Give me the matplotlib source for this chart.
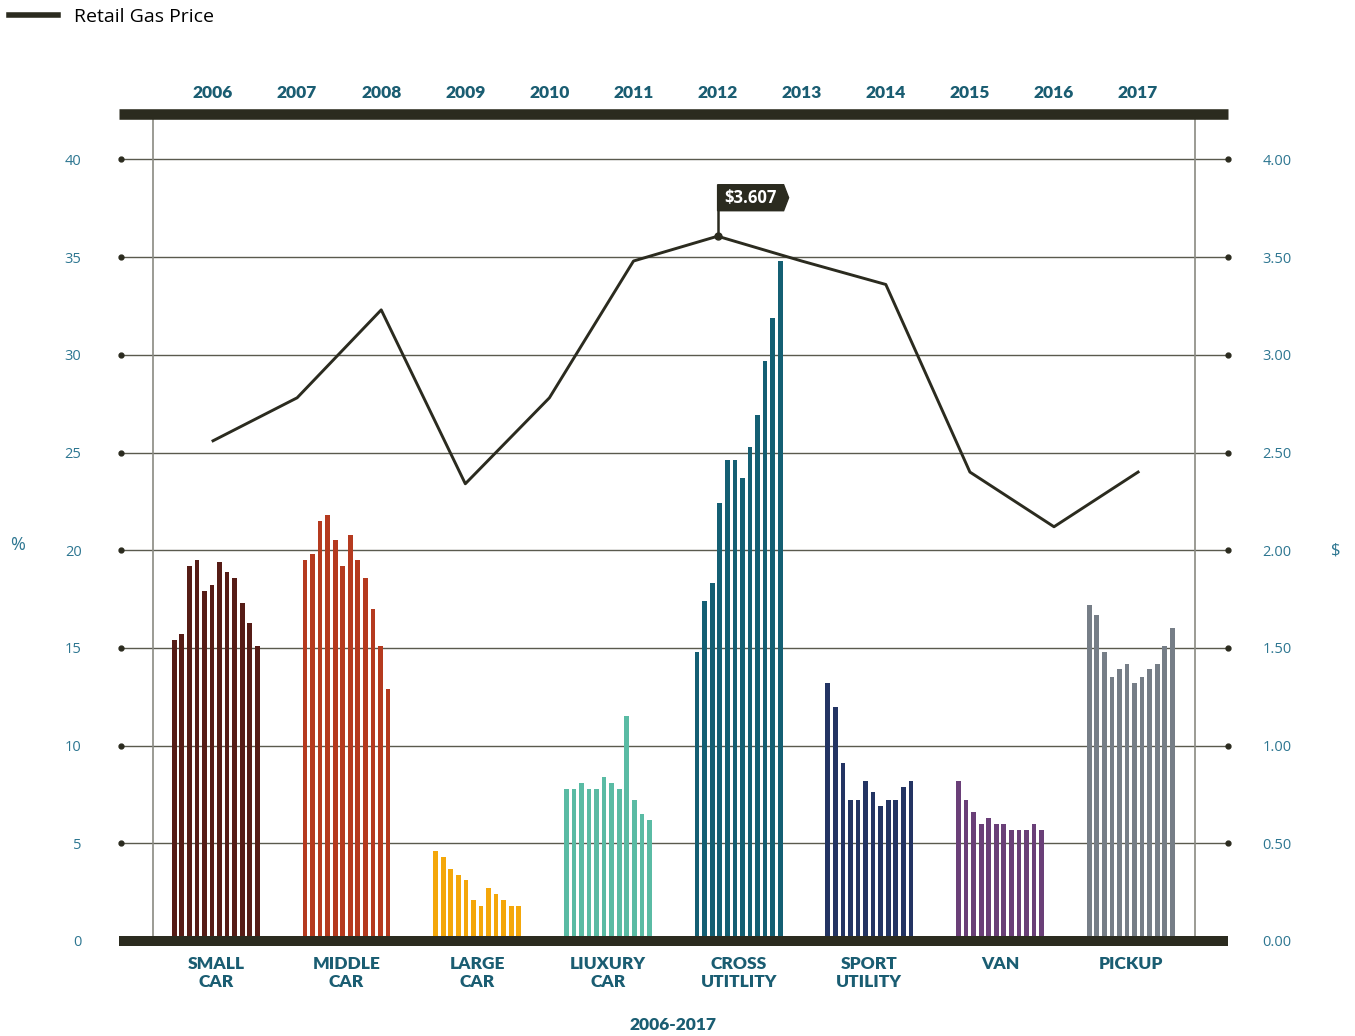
import numpy as np
import matplotlib
matplotlib.use("Agg")
import matplotlib.pyplot as plt
import matplotlib.transforms as mtransforms
from matplotlib.lines import Line2D
from matplotlib.patches import Polygon

#---------------------------- data ----------------------------#
categories = ["SMALL\nCAR", "MIDDLE\nCAR", "LARGE\nCAR", "LIUXURY\nCAR",
              "CROSS\nUTITLITY", "SPORT\nUTILITY", "VAN", "PICKUP"]

small_car = [15.4, 15.7, 19.2, 19.5, 17.9, 18.2, 19.4, 18.9, 18.6, 17.3, 16.3, 15.1]
middle_car = [19.5, 19.8, 21.5, 21.8, 20.5, 19.2, 20.8, 19.5, 18.6, 17.0, 15.1, 12.9]
large_car = [4.6, 4.3, 3.7, 3.4, 3.1, 2.1, 1.8, 2.7, 2.4, 2.1, 1.8, 1.8]
luxury_car = [7.8, 7.8, 8.1, 7.8, 7.8, 8.4, 8.1, 7.8, 11.5, 7.2, 6.5, 6.2]
cross_utility = [14.8, 17.4, 18.3, 22.4, 24.6, 24.6, 23.7, 25.3, 26.9, 29.7, 31.9, 34.8]
sport_utility = [13.2, 12.0, 9.1, 7.2, 7.2, 8.2, 7.6, 6.9, 7.2, 7.2, 7.9, 8.2]
van = [8.2, 7.2, 6.6, 6.0, 6.3, 6.0, 6.0, 5.7, 5.7, 5.7, 6.0, 5.7]
pickup = [17.2, 16.7, 14.8, 13.5, 13.9, 14.2, 13.2, 13.5, 13.9, 14.2, 15.1, 16.0]

years = list(range(2006, 2018))
gas_price = [2.56, 2.78, 3.23, 2.34, 2.78, 3.48, 3.607, 3.48, 3.36, 2.40, 2.12, 2.40]
peak_label = "$3.607"

series = [small_car, middle_car, large_car, luxury_car,
          cross_utility, sport_utility, van, pickup]
colors = ["#561c16", "#b53a1f", "#f4a70a", "#5abba4",
          "#145f73", "#233463", "#6a3f78", "#767e87"]

#---------------------------- style ----------------------------#
dark = "#2b2b1f"
teal = "#1a5d72"
tick_col = "#2d7691"
grid_col = "#5a5a4e"

plt.rcParams["font.family"] = ["Open Sans", "DejaVu Sans"]

fig = plt.figure(figsize=(13.55, 10.36), dpi=100)
pos = [119 / 1355, 95 / 1036, 1109 / 1355, 827.5 / 1036]

ax = fig.add_axes(pos)
ax.set_xlim(-0.7406, 7.744)
ax.set_ylim(0, 42.35)
for s in ax.spines.values():
    s.set_visible(False)

# bars
step = 0.0578
offs = (np.arange(12) - 5.5) * step
for i, (vals, c) in enumerate(zip(series, colors)):
    ax.bar(i + offs, vals, width=0.036, color=c, zorder=2)

# grid with end dots
ticks_pct = np.arange(5, 41, 5)
for t in ticks_pct:
    ax.axhline(t, xmin=0.0018, xmax=1.0, color=grid_col, lw=1, zorder=1)
blend = mtransforms.blended_transform_factory(ax.transAxes, ax.transData)
ax.plot([0.0018] * len(ticks_pct), ticks_pct, "o", ms=3.5, color=dark,
        transform=blend, clip_on=False, zorder=3)
ax.plot([1.0] * len(ticks_pct), ticks_pct, "o", ms=3.5, color=dark,
        transform=blend, clip_on=False, zorder=3)

# thin verticals + thick top/bottom bars
for xf in [0.0304, 0.9702]:
    ax.plot([xf, xf], [0, 1], color="#8a8a82", lw=1.2, transform=ax.transAxes, zorder=1)
ax.axhline(0, color=dark, lw=7.2, zorder=4, clip_on=False, solid_capstyle="butt")
ax.axhline(42.35, color=dark, lw=7.6, zorder=4, clip_on=False, solid_capstyle="butt")

ax.set_yticks(np.arange(0, 41, 5))
ax.set_yticklabels([str(v) for v in range(0, 41, 5)])
ax.tick_params(axis="y", length=0, pad=27, labelsize=10.5, labelcolor=tick_col)
ax.set_xticks(range(len(categories)))
ax.set_xticklabels(categories, fontsize=12.5, fontweight="heavy", color=teal,
                   family=["Lato", "DejaVu Sans"], linespacing=1.1)
ax.tick_params(axis="x", length=0, pad=11)
ax.set_xlabel("2006-2017", fontsize=12.5, fontweight="heavy", color=teal,
              family=["Lato", "DejaVu Sans"], labelpad=20)
ax.set_ylabel("%", rotation=0, fontsize=13, color=tick_col, va="center", ha="center")
ax.yaxis.set_label_coords(-101 / 1109, 0.4786)

#---------------------------- gas price line ----------------------------#
ax2 = fig.add_axes(pos, frameon=False)
ax2.set_xlim(2004.882, 2018.069)
ax2.set_ylim(0, 4.235)
ax2.plot(years, gas_price, color=dark, lw=2.1, zorder=5)
ax2.xaxis.tick_top()
ax2.set_xticks(years)
ax2.set_xticklabels([str(y) for y in years], fontsize=12.5, fontweight="heavy",
                    color=teal, family=["Lato", "DejaVu Sans"])
ax2.tick_params(axis="x", length=0, pad=9)
ax2.yaxis.tick_right()
ax2.set_yticks(np.arange(0, 4.01, 0.5))
ax2.set_yticklabels([f"{v:.2f}" for v in np.arange(0, 4.01, 0.5)])
ax2.tick_params(axis="y", length=0, pad=25, labelsize=10.5, labelcolor=tick_col)
ax2.yaxis.set_label_position("right")
ax2.set_ylabel("$", rotation=0, fontsize=12, color=tick_col, va="center", ha="center")
ax2.yaxis.set_label_coords(1217 / 1109, 0.4725)

# flag annotation on the peak
ipk = int(np.argmax(gas_price))
xp, yp = years[ipk], gas_price[ipk]
ax2.plot([xp], [yp], "o", ms=5, color=dark, zorder=6)
ftr = fig.dpi_scale_trans + mtransforms.ScaledTranslation(xp, yp, ax2.transData)
ax2.plot([0, 0], [0, 0.27], color=dark, lw=1.8, transform=ftr, zorder=6)
flag = Polygon([[0, 0.255], [0.66, 0.255], [0.71, 0.385], [0.66, 0.515], [0, 0.515]],
               closed=True, color=dark, transform=ftr, zorder=6)
ax2.add_patch(flag)
ax2.text(0.33, 0.385, peak_label, transform=ftr, color="white", fontsize=12,
         fontweight="bold", ha="center", va="center", zorder=7)

#---------------------------- legend ----------------------------#
fig.legend(handles=[Line2D([], [], color=dark, lw=4)], labels=["Retail Gas Price"],
           loc="upper left", bbox_to_anchor=(0.0066, 0.992), frameon=False,
           fontsize=14, handlelength=2.52, handletextpad=0.82, borderaxespad=0.0,
           borderpad=0.0)

fig.savefig("out.png", dpi=100)
